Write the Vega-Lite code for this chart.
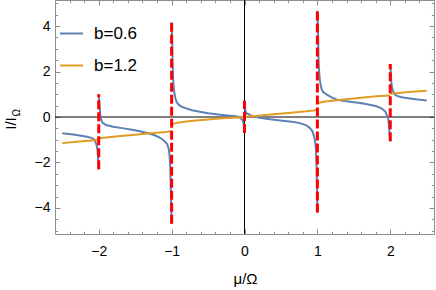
{
  "$schema": "https://vega.github.io/schema/vega-lite/v6.json",
  "width": 379,
  "height": 234,
  "autosize": {"type": "none"},
  "padding": {"left": 55, "top": 0, "right": 2, "bottom": 56},
  "config": {
    "font": "Liberation Sans",
    "view": {"stroke": "#8c8c8c", "strokeWidth": 1},
    "axis": {"domain": false, "tickColor": "#8c8c8c", "tickWidth": 1, "labelColor": "#000000", "labelFontSize": 13, "titleColor": "#000000", "titleFontWeight": "normal", "grid": false}
  },
  "datasets": {
    "origin": [{"o": 0}],
    "curves": [
      {"mu": -2.5, "I": -0.72, "series": "b=0.6", "seg": "A"},
      {"mu": -2.35, "I": -0.77, "series": "b=0.6", "seg": "A"},
      {"mu": -2.22, "I": -0.84, "series": "b=0.6", "seg": "A"},
      {"mu": -2.16, "I": -0.87, "series": "b=0.6", "seg": "A"},
      {"mu": -2.1, "I": -0.92, "series": "b=0.6", "seg": "A"},
      {"mu": -2.065, "I": -0.98, "series": "b=0.6", "seg": "A"},
      {"mu": -2.04, "I": -1.12, "series": "b=0.6", "seg": "A"},
      {"mu": -2.025, "I": -1.3, "series": "b=0.6", "seg": "A"},
      {"mu": -2.015, "I": -1.5, "series": "b=0.6", "seg": "A"},
      {"mu": -2.008, "I": -1.9, "series": "b=0.6", "seg": "A"},
      {"mu": -2.0, "I": -2.3, "series": "b=0.6", "seg": "A"},
      {"mu": -2.0, "I": 1.0, "series": "b=0.6", "seg": "B"},
      {"mu": -1.99, "I": 0.55, "series": "b=0.6", "seg": "B"},
      {"mu": -1.98, "I": 0.1, "series": "b=0.6", "seg": "B"},
      {"mu": -1.97, "I": -0.08, "series": "b=0.6", "seg": "B"},
      {"mu": -1.95, "I": -0.25, "series": "b=0.6", "seg": "B"},
      {"mu": -1.9, "I": -0.35, "series": "b=0.6", "seg": "B"},
      {"mu": -1.8, "I": -0.43, "series": "b=0.6", "seg": "B"},
      {"mu": -1.68, "I": -0.49, "series": "b=0.6", "seg": "B"},
      {"mu": -1.5, "I": -0.58, "series": "b=0.6", "seg": "B"},
      {"mu": -1.36, "I": -0.68, "series": "b=0.6", "seg": "B"},
      {"mu": -1.25, "I": -0.78, "series": "b=0.6", "seg": "B"},
      {"mu": -1.18, "I": -0.88, "series": "b=0.6", "seg": "B"},
      {"mu": -1.12, "I": -1.0, "series": "b=0.6", "seg": "B"},
      {"mu": -1.08, "I": -1.12, "series": "b=0.6", "seg": "B"},
      {"mu": -1.06, "I": -1.2, "series": "b=0.6", "seg": "B"},
      {"mu": -1.04, "I": -1.4, "series": "b=0.6", "seg": "B"},
      {"mu": -1.03, "I": -1.65, "series": "b=0.6", "seg": "B"},
      {"mu": -1.02, "I": -2.1, "series": "b=0.6", "seg": "B"},
      {"mu": -1.015, "I": -2.6, "series": "b=0.6", "seg": "B"},
      {"mu": -1.01, "I": -3.3, "series": "b=0.6", "seg": "B"},
      {"mu": -1.0, "I": -4.7, "series": "b=0.6", "seg": "B"},
      {"mu": -1.0, "I": 4.15, "series": "b=0.6", "seg": "C"},
      {"mu": -0.995, "I": 3.6, "series": "b=0.6", "seg": "C"},
      {"mu": -0.99, "I": 2.9, "series": "b=0.6", "seg": "C"},
      {"mu": -0.985, "I": 2.2, "series": "b=0.6", "seg": "C"},
      {"mu": -0.98, "I": 1.7, "series": "b=0.6", "seg": "C"},
      {"mu": -0.97, "I": 1.25, "series": "b=0.6", "seg": "C"},
      {"mu": -0.96, "I": 1.0, "series": "b=0.6", "seg": "C"},
      {"mu": -0.95, "I": 0.85, "series": "b=0.6", "seg": "C"},
      {"mu": -0.93, "I": 0.65, "series": "b=0.6", "seg": "C"},
      {"mu": -0.9, "I": 0.53, "series": "b=0.6", "seg": "C"},
      {"mu": -0.86, "I": 0.45, "series": "b=0.6", "seg": "C"},
      {"mu": -0.8, "I": 0.38, "series": "b=0.6", "seg": "C"},
      {"mu": -0.72, "I": 0.3, "series": "b=0.6", "seg": "C"},
      {"mu": -0.65, "I": 0.25, "series": "b=0.6", "seg": "C"},
      {"mu": -0.5, "I": 0.17, "series": "b=0.6", "seg": "C"},
      {"mu": -0.33, "I": 0.1, "series": "b=0.6", "seg": "C"},
      {"mu": -0.2, "I": 0.06, "series": "b=0.6", "seg": "C"},
      {"mu": -0.12, "I": 0.03, "series": "b=0.6", "seg": "C"},
      {"mu": -0.08, "I": 0.0, "series": "b=0.6", "seg": "C"},
      {"mu": -0.05, "I": -0.06, "series": "b=0.6", "seg": "C"},
      {"mu": -0.03, "I": -0.13, "series": "b=0.6", "seg": "C"},
      {"mu": -0.02, "I": -0.2, "series": "b=0.6", "seg": "C"},
      {"mu": -0.01, "I": -0.35, "series": "b=0.6", "seg": "C"},
      {"mu": -0.005, "I": -0.5, "series": "b=0.6", "seg": "C"},
      {"mu": 0.0, "I": -0.7, "series": "b=0.6", "seg": "C"},
      {"mu": 0.0, "I": 0.7, "series": "b=0.6", "seg": "D"},
      {"mu": 0.005, "I": 0.5, "series": "b=0.6", "seg": "D"},
      {"mu": 0.01, "I": 0.33, "series": "b=0.6", "seg": "D"},
      {"mu": 0.02, "I": 0.2, "series": "b=0.6", "seg": "D"},
      {"mu": 0.035, "I": 0.15, "series": "b=0.6", "seg": "D"},
      {"mu": 0.055, "I": 0.12, "series": "b=0.6", "seg": "D"},
      {"mu": 0.1, "I": 0.05, "series": "b=0.6", "seg": "D"},
      {"mu": 0.15, "I": 0.01, "series": "b=0.6", "seg": "D"},
      {"mu": 0.21, "I": -0.03, "series": "b=0.6", "seg": "D"},
      {"mu": 0.35, "I": -0.1, "series": "b=0.6", "seg": "D"},
      {"mu": 0.49, "I": -0.15, "series": "b=0.6", "seg": "D"},
      {"mu": 0.65, "I": -0.21, "series": "b=0.6", "seg": "D"},
      {"mu": 0.76, "I": -0.27, "series": "b=0.6", "seg": "D"},
      {"mu": 0.85, "I": -0.37, "series": "b=0.6", "seg": "D"},
      {"mu": 0.9, "I": -0.49, "series": "b=0.6", "seg": "D"},
      {"mu": 0.93, "I": -0.62, "series": "b=0.6", "seg": "D"},
      {"mu": 0.955, "I": -0.85, "series": "b=0.6", "seg": "D"},
      {"mu": 0.97, "I": -1.1, "series": "b=0.6", "seg": "D"},
      {"mu": 0.98, "I": -1.4, "series": "b=0.6", "seg": "D"},
      {"mu": 0.985, "I": -1.75, "series": "b=0.6", "seg": "D"},
      {"mu": 0.99, "I": -2.3, "series": "b=0.6", "seg": "D"},
      {"mu": 0.995, "I": -3.2, "series": "b=0.6", "seg": "D"},
      {"mu": 1.0, "I": -4.2, "series": "b=0.6", "seg": "D"},
      {"mu": 1.0, "I": 4.68, "series": "b=0.6", "seg": "E"},
      {"mu": 1.008, "I": 3.9, "series": "b=0.6", "seg": "E"},
      {"mu": 1.012, "I": 3.2, "series": "b=0.6", "seg": "E"},
      {"mu": 1.016, "I": 2.5, "series": "b=0.6", "seg": "E"},
      {"mu": 1.02, "I": 2.2, "series": "b=0.6", "seg": "E"},
      {"mu": 1.03, "I": 1.75, "series": "b=0.6", "seg": "E"},
      {"mu": 1.04, "I": 1.5, "series": "b=0.6", "seg": "E"},
      {"mu": 1.06, "I": 1.2, "series": "b=0.6", "seg": "E"},
      {"mu": 1.08, "I": 1.1, "series": "b=0.6", "seg": "E"},
      {"mu": 1.13, "I": 0.98, "series": "b=0.6", "seg": "E"},
      {"mu": 1.2, "I": 0.85, "series": "b=0.6", "seg": "E"},
      {"mu": 1.27, "I": 0.76, "series": "b=0.6", "seg": "E"},
      {"mu": 1.4, "I": 0.69, "series": "b=0.6", "seg": "E"},
      {"mu": 1.5, "I": 0.65, "series": "b=0.6", "seg": "E"},
      {"mu": 1.59, "I": 0.62, "series": "b=0.6", "seg": "E"},
      {"mu": 1.7, "I": 0.55, "series": "b=0.6", "seg": "E"},
      {"mu": 1.81, "I": 0.47, "series": "b=0.6", "seg": "E"},
      {"mu": 1.88, "I": 0.38, "series": "b=0.6", "seg": "E"},
      {"mu": 1.93, "I": 0.25, "series": "b=0.6", "seg": "E"},
      {"mu": 1.95, "I": 0.12, "series": "b=0.6", "seg": "E"},
      {"mu": 1.97, "I": -0.05, "series": "b=0.6", "seg": "E"},
      {"mu": 1.98, "I": -0.3, "series": "b=0.6", "seg": "E"},
      {"mu": 1.99, "I": -0.7, "series": "b=0.6", "seg": "E"},
      {"mu": 2.0, "I": -1.07, "series": "b=0.6", "seg": "E"},
      {"mu": 2.0, "I": 2.33, "series": "b=0.6", "seg": "F"},
      {"mu": 2.008, "I": 1.9, "series": "b=0.6", "seg": "F"},
      {"mu": 2.015, "I": 1.5, "series": "b=0.6", "seg": "F"},
      {"mu": 2.025, "I": 1.3, "series": "b=0.6", "seg": "F"},
      {"mu": 2.04, "I": 1.12, "series": "b=0.6", "seg": "F"},
      {"mu": 2.065, "I": 0.98, "series": "b=0.6", "seg": "F"},
      {"mu": 2.1, "I": 0.92, "series": "b=0.6", "seg": "F"},
      {"mu": 2.16, "I": 0.87, "series": "b=0.6", "seg": "F"},
      {"mu": 2.22, "I": 0.84, "series": "b=0.6", "seg": "F"},
      {"mu": 2.35, "I": 0.78, "series": "b=0.6", "seg": "F"},
      {"mu": 2.5, "I": 0.73, "series": "b=0.6", "seg": "F"},
      {"mu": -2.5, "I": -1.15, "series": "b=1.2", "seg": "O1"},
      {"mu": -2.3, "I": -1.09, "series": "b=1.2", "seg": "O1"},
      {"mu": -2.1, "I": -1.03, "series": "b=1.2", "seg": "O1"},
      {"mu": -2.0, "I": -0.99, "series": "b=1.2", "seg": "O1"},
      {"mu": -2.0, "I": -0.94, "series": "b=1.2", "seg": "O2"},
      {"mu": -1.9, "I": -0.9, "series": "b=1.2", "seg": "O2"},
      {"mu": -1.7, "I": -0.84, "series": "b=1.2", "seg": "O2"},
      {"mu": -1.5, "I": -0.78, "series": "b=1.2", "seg": "O2"},
      {"mu": -1.3, "I": -0.72, "series": "b=1.2", "seg": "O2"},
      {"mu": -1.15, "I": -0.68, "series": "b=1.2", "seg": "O2"},
      {"mu": -1.05, "I": -0.65, "series": "b=1.2", "seg": "O2"},
      {"mu": -1.0, "I": -0.62, "series": "b=1.2", "seg": "O2"},
      {"mu": -1.0, "I": -0.34, "series": "b=1.2", "seg": "O3"},
      {"mu": -0.97, "I": -0.29, "series": "b=1.2", "seg": "O3"},
      {"mu": -0.9, "I": -0.24, "series": "b=1.2", "seg": "O3"},
      {"mu": -0.74, "I": -0.18, "series": "b=1.2", "seg": "O3"},
      {"mu": -0.5, "I": -0.11, "series": "b=1.2", "seg": "O3"},
      {"mu": -0.3, "I": -0.06, "series": "b=1.2", "seg": "O3"},
      {"mu": -0.15, "I": -0.03, "series": "b=1.2", "seg": "O3"},
      {"mu": 0.0, "I": 0.0, "series": "b=1.2", "seg": "O3"},
      {"mu": 0.15, "I": 0.04, "series": "b=1.2", "seg": "O3"},
      {"mu": 0.4, "I": 0.12, "series": "b=1.2", "seg": "O3"},
      {"mu": 0.6, "I": 0.18, "series": "b=1.2", "seg": "O3"},
      {"mu": 0.85, "I": 0.25, "series": "b=1.2", "seg": "O3"},
      {"mu": 0.95, "I": 0.29, "series": "b=1.2", "seg": "O3"},
      {"mu": 1.0, "I": 0.32, "series": "b=1.2", "seg": "O3"},
      {"mu": 1.0, "I": 0.6, "series": "b=1.2", "seg": "O4"},
      {"mu": 1.01, "I": 0.62, "series": "b=1.2", "seg": "O4"},
      {"mu": 1.1, "I": 0.68, "series": "b=1.2", "seg": "O4"},
      {"mu": 1.36, "I": 0.77, "series": "b=1.2", "seg": "O4"},
      {"mu": 1.6, "I": 0.85, "series": "b=1.2", "seg": "O4"},
      {"mu": 1.81, "I": 0.91, "series": "b=1.2", "seg": "O4"},
      {"mu": 2.0, "I": 0.95, "series": "b=1.2", "seg": "O4"},
      {"mu": 2.0, "I": 1.01, "series": "b=1.2", "seg": "O5"},
      {"mu": 2.04, "I": 1.03, "series": "b=1.2", "seg": "O5"},
      {"mu": 2.25, "I": 1.1, "series": "b=1.2", "seg": "O5"},
      {"mu": 2.5, "I": 1.16, "series": "b=1.2", "seg": "O5"}
    ],
    "jumps": [
      {"mu": -2, "lo": -2.3, "hi": 1.0},
      {"mu": -1, "lo": -4.7, "hi": 4.15},
      {"mu": 0, "lo": -0.7, "hi": 0.72},
      {"mu": 1, "lo": -4.2, "hi": 4.68},
      {"mu": 2, "lo": -1.07, "hi": 2.33}
    ]
  },
  "layer": [
    {
      "data": {"name": "origin"},
      "mark": {"type": "rule", "color": "#000000", "strokeWidth": 1},
      "encoding": {
        "x": {
          "field": "o", "type": "quantitative",
          "scale": {"domain": [-2.6, 2.6], "nice": false, "zero": false},
          "axis": {
            "orient": "bottom",
            "values": [-2.4, -2.2, -2, -1.8, -1.6, -1.4, -1.2, -1, -0.8, -0.6, -0.4, -0.2, 0, 0.2, 0.4, 0.6, 0.8, 1, 1.2, 1.4, 1.6, 1.8, 2, 2.2, 2.4],
            "tickSize": {"condition": {"test": "abs(datum.value - round(datum.value)) < 0.001", "value": -5}, "value": -2.7},
            "labelExpr": "abs(datum.value - round(datum.value)) < 0.001 ? format(datum.value, 'd') : ''",
            "labelPadding": 15,
            "labelFontSize": 14,
            "title": "μ/Ω",
            "titleFontSize": 15,
            "titleX": 190,
            "titleY": 49,
            "titleBaseline": "alphabetic"
          }
        }
      }
    },
    {
      "data": {"name": "origin"},
      "mark": {"type": "rule", "color": "#000000", "strokeWidth": 1},
      "encoding": {
        "y": {
          "field": "o", "type": "quantitative",
          "scale": {"domain": [-5.15, 5.15], "nice": false, "zero": false},
          "axis": {
            "orient": "left",
            "values": [-5, -4.5, -4, -3.5, -3, -2.5, -2, -1.5, -1, -0.5, 0, 0.5, 1, 1.5, 2, 2.5, 3, 3.5, 4, 4.5, 5],
            "tickSize": {"condition": {"test": "abs(datum.value / 2 - round(datum.value / 2)) < 0.001", "value": -5}, "value": -2.7},
            "labelExpr": "abs(datum.value / 2 - round(datum.value / 2)) < 0.001 ? format(datum.value, 'd') : ''",
            "labelPadding": 10,
            "labelFontSize": 14,
            "title": "I/I",
            "titleFontSize": 15,
            "titleAngle": 270,
            "titleAlign": "center",
            "titleBaseline": "alphabetic",
            "titleX": -40,
            "titleY": 123
          }
        }
      }
    },
    {
      "mark": {"type": "line", "strokeWidth": 2},
      "data": {"name": "curves"},
      "encoding": {
        "x": {
          "field": "mu", "type": "quantitative",
          "scale": {"domain": [-2.6, 2.6], "nice": false, "zero": false},
          "axis": {
            "orient": "top",
            "values": [-2.4, -2.2, -2, -1.8, -1.6, -1.4, -1.2, -1, -0.8, -0.6, -0.4, -0.2, 0, 0.2, 0.4, 0.6, 0.8, 1, 1.2, 1.4, 1.6, 1.8, 2, 2.2, 2.4],
            "tickSize": {"condition": {"test": "abs(datum.value - round(datum.value)) < 0.001", "value": -5}, "value": -2.7},
            "labels": false,
            "title": null
          }
        },
        "y": {
          "field": "I", "type": "quantitative",
          "scale": {"domain": [-5.15, 5.15], "nice": false, "zero": false},
          "axis": {
            "orient": "right",
            "values": [-5, -4.5, -4, -3.5, -3, -2.5, -2, -1.5, -1, -0.5, 0, 0.5, 1, 1.5, 2, 2.5, 3, 3.5, 4, 4.5, 5],
            "tickSize": {"condition": {"test": "abs(datum.value / 2 - round(datum.value / 2)) < 0.001", "value": -5}, "value": -2.7},
            "labels": false,
            "title": null
          }
        },
        "color": {
          "field": "series", "type": "nominal",
          "scale": {"domain": ["b=0.6", "b=1.2"], "range": ["#5E81B5", "#E19C24"]},
          "legend": {
            "orient": "none",
            "legendX": 4,
            "legendY": 21,
            "title": null,
            "padding": 0,
            "symbolType": "stroke",
            "symbolSize": 529,
            "symbolStrokeWidth": 2,
            "labelFontSize": 17,
            "labelOffset": 10,
            "rowPadding": 11,
            "labelColor": "#000000"
          }
        },
        "detail": {"field": "seg", "type": "nominal"}
      }
    },
    {
      "mark": {"type": "rule", "color": "#FF0000", "strokeWidth": 3, "strokeDash": [9, 3]},
      "data": {"name": "jumps"},
      "encoding": {
        "x": {"field": "mu", "type": "quantitative", "axis": null},
        "y": {"field": "lo", "type": "quantitative", "axis": null},
        "y2": {"field": "hi"}
      }
    },
    {
      "data": {"name": "origin"},
      "mark": {"type": "rule", "opacity": 0},
      "encoding": {
        "y": {
          "field": "o", "type": "quantitative",
          "axis": {
            "orient": "left",
            "domain": false, "ticks": false, "labels": false,
            "title": "Ω",
            "titleFontSize": 10,
            "titleAngle": 270,
            "titleAlign": "left",
            "titleBaseline": "alphabetic",
            "titleX": -36,
            "titleY": 116
          }
        }
      }
    }
  ],
  "resolve": {"axis": {"x": "independent", "y": "independent"}}
}
